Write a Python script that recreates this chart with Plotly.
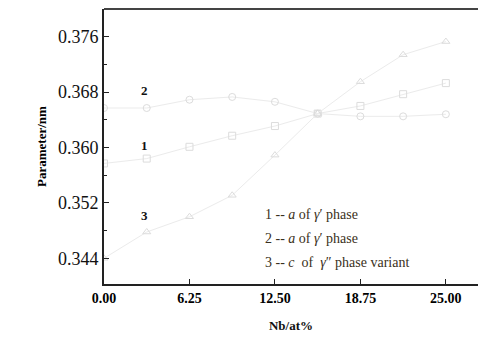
import plotly.graph_objects as go

nb = [0, 3.125, 6.25, 9.375, 12.5, 15.625, 18.75, 21.875, 25.0]
s1_a_gamma1 = [0.3577, 0.3584, 0.3601, 0.3617, 0.3631, 0.3649, 0.3660, 0.3677, 0.3693]
s2_a_gamma2 = [0.3657, 0.3657, 0.3669, 0.3673, 0.3666, 0.3649, 0.3645, 0.3645, 0.3648]
s3_c_gamma3 = [0.3440, 0.3478, 0.3500, 0.3531, 0.3589, 0.3649, 0.3695, 0.3734, 0.3753]

x_ticks = [0, 6.25, 12.5, 18.75, 25.0]
x_tick_text = ["0.00", "6.25", "12.50", "18.75", "25.00"]
y_ticks = [0.344, 0.352, 0.360, 0.368, 0.376]
y_tick_text = ["0.344", "0.352", "0.360", "0.368", "0.376"]

legend_lines = ["1 -- <i>a</i> of <i>γ</i>′ phase",
                "2 -- <i>a</i> of <i>γ</i>′ phase",
                "3 -- <i>c</i>  of  <i>γ</i>″ phase variant"]

serif = "Liberation Serif, Times New Roman, serif"

fig = go.Figure()
lc = "#ebebeb"
for ys, sym in [(s1_a_gamma1, "square-open"), (s2_a_gamma2, "circle-open"), (s3_c_gamma3, "triangle-up-open")]:
    fig.add_trace(go.Scatter(x=nb, y=ys, mode="lines+markers",
                             line=dict(color=lc, width=1),
                             marker=dict(symbol=sym, size=7, color="#dcdcdc", line=dict(width=1)),
                             showlegend=False))

for txt, yv in [("2", 0.36816), ("1", 0.36022), ("3", 0.35025)]:
    fig.add_annotation(x=2.95, y=yv, text="<b>" + txt + "</b>", showarrow=False,
                       font=dict(family=serif, size=13, color="#111"))

for i, (t, yv) in enumerate(zip(legend_lines, [0.3503, 0.3469, 0.3434])):
    fig.add_annotation(x=11.6, y=yv, text=t, showarrow=False, xanchor="left",
                       font=dict(family=serif, size=14, color="#3a3020"))

fig.add_shape(type="line", xref="paper", yref="paper", x0=0, x1=1, y0=1, y1=1,
              line=dict(color="#444", width=2))

fig.update_layout(
    width=478, height=337,
    margin=dict(l=104, r=0, t=9, b=53),
    paper_bgcolor="white", plot_bgcolor="white",
    font=dict(family=serif, color="#111"),
    xaxis=dict(range=[0, 27.35], tickvals=x_ticks, ticktext=x_tick_text,
               showgrid=False, zeroline=False, showline=True, linecolor="#222", linewidth=2,
               ticks="inside", ticklen=5, tickwidth=1, tickcolor="#222",
               tickfont=dict(family=serif, size=14, color="#000", weight="bold"),
               title=dict(text="<b>Nb/at%</b>", font=dict(family=serif, size=13), standoff=16)),
    yaxis=dict(range=[0.34029, 0.3800], tickvals=y_ticks, ticktext=y_tick_text,
               showgrid=False, zeroline=False, showline=True, linecolor="#222", linewidth=2,
               ticks="inside", ticklen=5, tickwidth=1, tickcolor="#222",
               minor=dict(dtick=0.004, tick0=0.344, ticks="inside", ticklen=3, tickcolor="#222"),
               tickfont=dict(family=serif, size=18, color="#111"),
               title=dict(text="<b>Parameter/nm</b>", font=dict(family=serif, size=13, color="#000"), standoff=8)),
)

fig.write_html("out.html")
